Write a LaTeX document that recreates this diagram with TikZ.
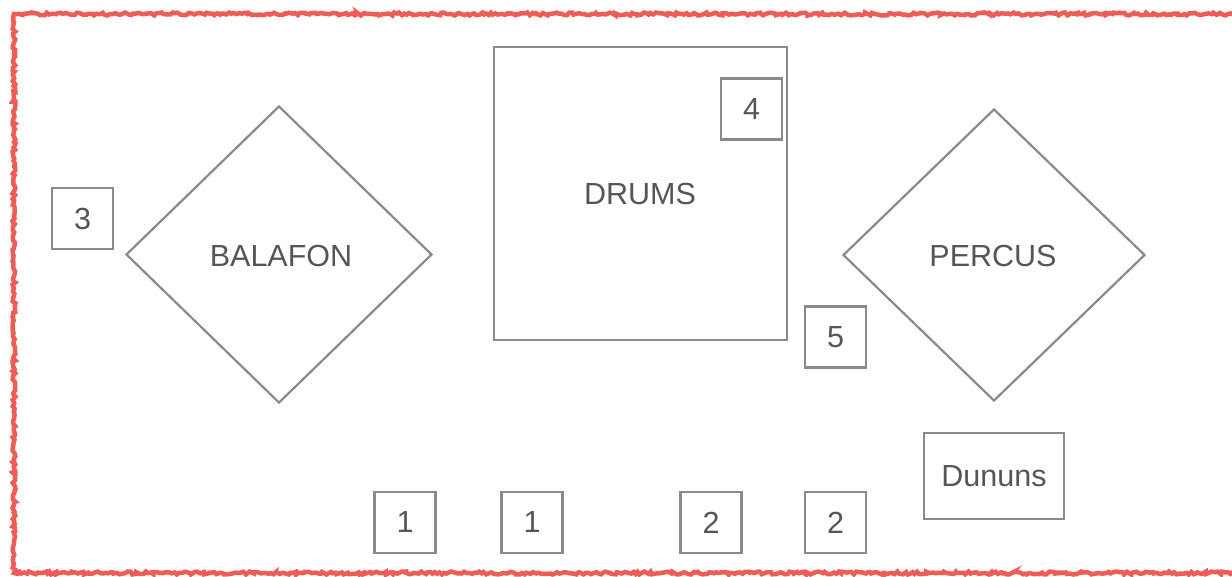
\documentclass[tikz,border=0pt]{standalone}
\usepackage{fontspec}
\setmainfont{Liberation Sans}
\usetikzlibrary{shapes.geometric,decorations.pathmorphing}
\definecolor{edge}{HTML}{8A8A8E}
\definecolor{txt}{HTML}{555555}
\definecolor{rough}{HTML}{EE5C58}
\tikzset{
  lbl/.style={text=txt, font=\fontsize{30.5}{33}\selectfont},
  shp/.style={draw=edge, line width=2.2pt, lbl, inner sep=0pt},
  numbox/.style={shp, rectangle, minimum width=61pt, minimum height=61pt},
  dia/.style={shp, diamond},
}
\begin{document}
\begin{tikzpicture}[x=1pt,y=-1pt]
\useasboundingbox (0,0) rectangle (1232,576);
\begin{scope}
\clip (0,0) rectangle (1232,576);
\draw[rough, line width=4.5pt, decorate, decoration={random steps, segment length=2.5pt, amplitude=1.5pt}]
  (14,14) -- (1250,14) -- (1250,573) -- (14,573) -- cycle;
\end{scope}
\node[numbox] (n3) at (82.5,218.5) {3};
\node[dia, minimum width=306pt, minimum height=297pt] (balafon) at (279,254.5) {};
\node[lbl] (balafonT) at (281,256) {BALAFON};
\node[shp, rectangle, minimum width=293pt, minimum height=293pt] (drums) at (640.5,193.5) {};
\node[lbl] (drumsT) at (640,194) {DRUMS};
\node[numbox] (n4) at (751.5,109) {4};
\node[numbox] (n5) at (835.5,337) {5};
\node[dia, minimum width=302pt, minimum height=292pt] (percus) at (994,255) {};
\node[lbl] (percusT) at (993,256) {PERCUS};
\node[shp, rectangle, minimum width=140pt, minimum height=86pt] (dununs) at (994,476) {Dununs};
\node[numbox] (a1) at (405,522.5) {1};
\node[numbox] (b1) at (532,522.5) {1};
\node[numbox] (a2) at (711,522.5) {2};
\node[numbox] (b2) at (835.5,522.5) {2};
\end{tikzpicture}
\end{document}
